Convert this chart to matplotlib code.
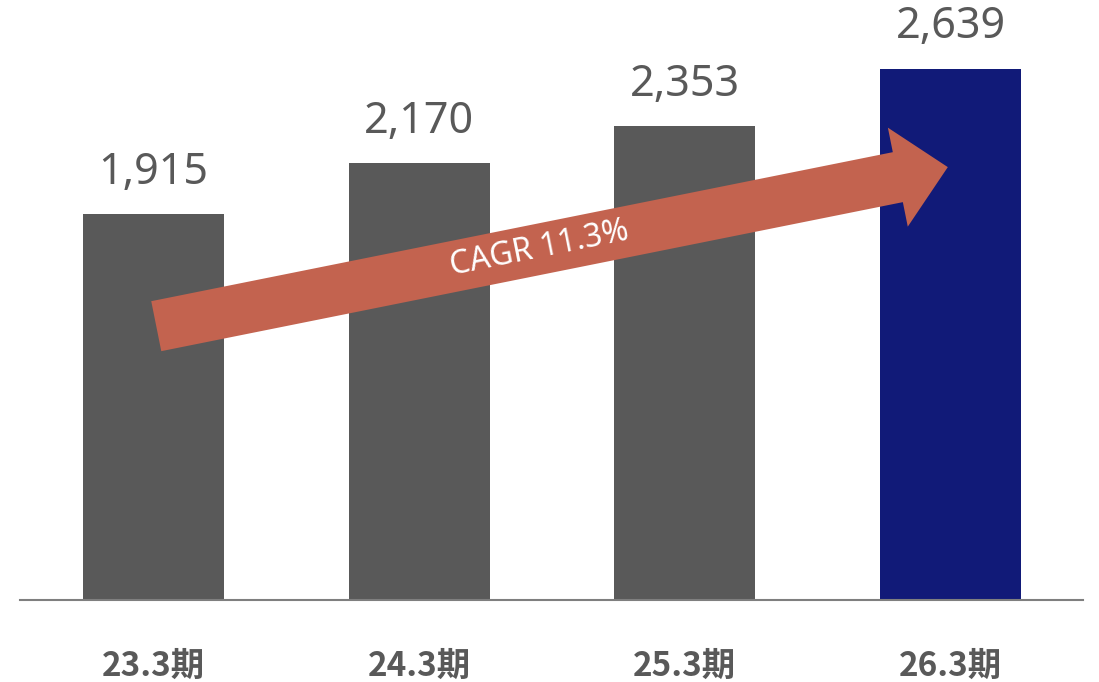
import numpy as np
import matplotlib
matplotlib.use('Agg')
import matplotlib.pyplot as plt
from matplotlib.patches import FancyArrowPatch, ArrowStyle

# Datos
periodos = ['23.3期', '24.3期', '25.3期', '26.3期']
valores = [1915, 2170, 2353, 2639]
colores = ['#595959', '#595959', '#595959', '#111a78']
cagr_txt = 'CAGR 11.3%'
# flecha: desde primera barra hasta la última (coordenadas de datos)
flecha_ini = (0.01, 1360)
flecha_fin = (2.99, 2150)

C_GRIS, C_FLECHA, C_EJE = '#595959', '#c3634f', '#7f7f7f'

fig = plt.figure(figsize=(10.99, 6.82), dpi=100)
fig.patch.set_facecolor('white')
ax = fig.add_axes([20 / 1099, 82 / 682, 1063 / 1099, 600 / 682])
ax.set_facecolor('none')

x = np.arange(len(valores))
ax.bar(x, valores, width=0.531, color=colores, zorder=2)
ax.set_xlim(-0.503, 3.499)
ax.set_ylim(0, 2980)

for xi, v in zip(x, valores):
    ax.text(xi, v + 205, f'{v:,}', ha='center', va='center', fontsize=31, fontweight='semibold',
            color=C_GRIS, family=['Noto Sans', 'DejaVu Sans'], zorder=4)

# eje
for s in ['top', 'right', 'left']:
    ax.spines[s].set_visible(False)
ax.spines['bottom'].set_color(C_EJE)
ax.spines['bottom'].set_linewidth(1.5)
ax.set_yticks([])
ax.set_xticks(x)
ax.set_xticklabels(periodos, fontsize=24, color=C_GRIS, fontweight='bold',
                   family=['Noto Sans CJK JP', 'DejaVu Sans'])
ax.tick_params(axis='x', length=0, pad=36)

# flecha CAGR
estilo = ArrowStyle.Simple(head_length=36.7, head_width=72.7, tail_width=36.7)
flecha = FancyArrowPatch(flecha_ini, flecha_fin, arrowstyle=estilo, mutation_scale=1,
                         fc=C_FLECHA, ec='none', shrinkA=0, shrinkB=0, zorder=3)
ax.add_patch(flecha)

p0 = ax.transData.transform(flecha_ini)
p1 = ax.transData.transform(flecha_fin)
ang = np.degrees(np.arctan2(p1[1] - p0[1], p1[0] - p0[0]))
xm = 1.451
ym = flecha_ini[1] + (flecha_fin[1] - flecha_ini[1]) * (xm - flecha_ini[0]) / (flecha_fin[0] - flecha_ini[0])
ax.text(xm, ym, cagr_txt, ha='center', va='center', rotation=ang, rotation_mode='anchor',
        fontsize=23, fontweight='semibold', color='white',
        family=['Noto Sans', 'DejaVu Sans'], zorder=4)

plt.savefig('out.png', dpi=100, facecolor='white')
